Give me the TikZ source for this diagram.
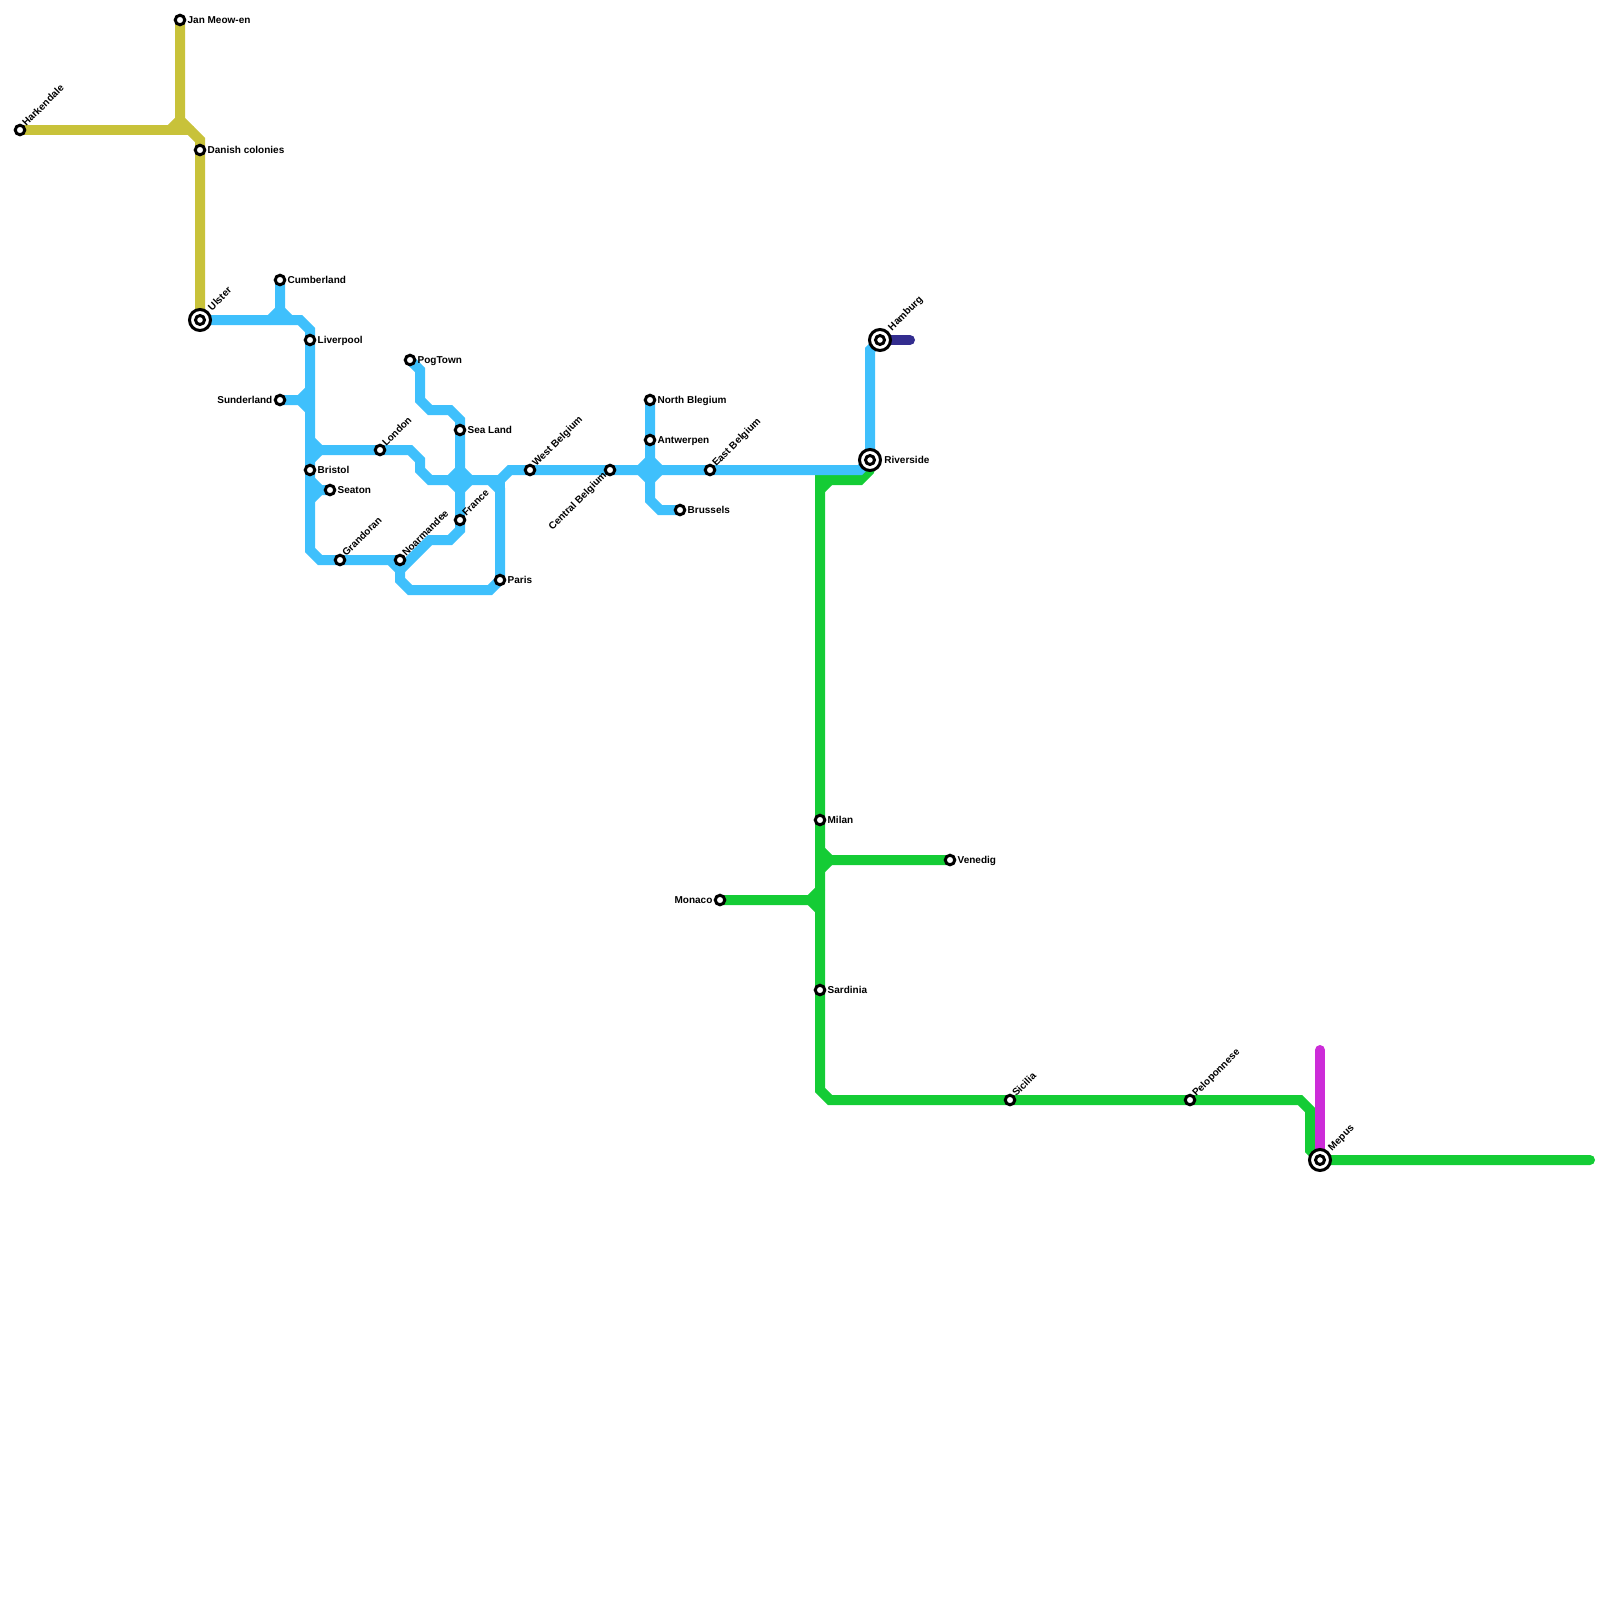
\documentclass[tikz,border=0pt]{standalone}
\usepackage{fontspec}
\setmainfont{Liberation Sans}
\usepackage{xcolor}
\usetikzlibrary{backgrounds}
\definecolor{metroyellow}{HTML}{C8C23A}
\definecolor{metroblue}{HTML}{3FC0FC}
\definecolor{metrogreen}{HTML}{14CC35}
\definecolor{metromagenta}{HTML}{CC2CD8}
\definecolor{metronavy}{HTML}{332D8F}

\begin{document}
\begin{tikzpicture}[
  x=0.5pt, y=-0.5pt,
  route/.style={line width=5pt, line cap=round},
  yellowline/.style={route, draw=metroyellow},
  blueline/.style={route, draw=metroblue},
  greenline/.style={route, draw=metrogreen},
  magentaline/.style={route, draw=metromagenta},
  navyline/.style={route, draw=metronavy},
  stationname/.style={font=\bfseries\fontsize{5pt}{6pt}\selectfont, inner sep=0pt, text=black},
  station/.style={circle, draw=black, fill=white, line width=1.5pt, inner sep=0pt, minimum size=4.75pt},
  hub/.style={station, minimum size=10.5pt},
  hubcore/.style={station, minimum size=4.5pt},
  eastname/.style={label={[stationname, anchor=mid west, xshift=0.5pt, yshift=1pt]0:#1}},
  westname/.style={label={[stationname, anchor=mid east, xshift=-0.5pt, yshift=1pt]180:#1}},
  upname/.style={label={[stationname, rotate=45, anchor=mid west, yshift=1.5pt]45:#1}},
  downname/.style={label={[stationname, rotate=45, anchor=mid east, yshift=1.5pt]225:#1}},
  hubeastname/.style={label={[stationname, anchor=mid west, xshift=1pt, yshift=1pt]0:#1}},
  hubupname/.style={label={[stationname, rotate=45, anchor=mid west, xshift=1.25pt, yshift=1.5pt]45:#1}}
]
\useasboundingbox (0,0) rectangle (1600,1600);

\node[station, upname=Harkendale] (harkendale) at (20,130) {};
\node[station, eastname=Jan Meow-en] (janmeow) at (180,20) {};
\node[station, eastname=Danish colonies] (danish) at (200,150) {};
\node[hub, hubupname=Ulster] (ulster) at (200,320) {};
\node[station, eastname=Cumberland] (cumberland) at (280,280) {};
\node[station, eastname=Liverpool] (liverpool) at (310,340) {};
\node[station, westname=Sunderland] (sunderland) at (280,400) {};
\node[station, eastname=Bristol] (bristol) at (310,470) {};
\node[station, eastname=Seaton] (seaton) at (330,490) {};
\node[station, upname=London] (london) at (380,450) {};
\node[station, upname=Grandoran] (grandoran) at (340,560) {};
\node[station, upname=Noarmandee] (noarmandee) at (400,560) {};
\node[station, eastname=PogTown] (pogtown) at (410,360) {};
\node[station, eastname=Sea Land] (sealand) at (460,430) {};
\node[station, upname=France] (france) at (460,520) {};
\node[station, eastname=Paris] (paris) at (500,580) {};
\node[station, upname=West Belgium] (westbelgium) at (530,470) {};
\node[station, downname=Central Belgium] (centralbelgium) at (610,470) {};
\node[station, eastname=North Blegium] (northblegium) at (650,400) {};
\node[station, eastname=Antwerpen] (antwerpen) at (650,440) {};
\node[station, eastname=Brussels] (brussels) at (680,510) {};
\node[station, upname=East Belgium] (eastbelgium) at (710,470) {};
\node[hub, hubeastname=Riverside] (riverside) at (870,460) {};
\node[hub, hubupname=Hamburg] (hamburg) at (880,340) {};
\node[station, eastname=Milan] (milan) at (820,820) {};
\node[station, eastname=Venedig] (venedig) at (950,860) {};
\node[station, westname=Monaco] (monaco) at (720,900) {};
\node[station, eastname=Sardinia] (sardinia) at (820,990) {};
\node[station, upname=Sicilia] (sicilia) at (1010,1100) {};
\node[station, upname=Peloponnese] (peloponnese) at (1190,1100) {};
\node[hub, hubupname=Mepus] (mepus) at (1320,1160) {};
\node[hubcore] (ulstercore) at (ulster) {};
\node[hubcore] (riversidecore) at (riverside) {};
\node[hubcore] (hamburgcore) at (hamburg) {};
\node[hubcore] (mepuscore) at (mepus) {};

\begin{scope}[on background layer]
\draw[yellowline] (harkendale.center) -- (190,130);
\draw[yellowline] (170,130) -- (180,120);
\draw[yellowline] (janmeow.center) -- (180,120) -- (200,140) -- (danish.center) -- (ulster.center);

\draw[greenline] (870,470) -- (860,480) -- (820,480) -- (milan.center) -- (sardinia.center) -- (820,1090) -- (830,1100) -- (sicilia.center) -- (peloponnese.center) -- (1300,1100) -- (1310,1110) -- (1310,1150) -- (mepus.center) -- (1590,1160);
\draw[greenline] (820,490) -- (830,480);
\draw[greenline] (venedig.center) -- (830,860) -- (820,850);
\draw[greenline] (830,860) -- (820,870);
\draw[greenline] (monaco.center) -- (810,900) -- (820,890);
\draw[greenline] (810,900) -- (820,910);

\draw[blueline] (ulster.center) -- (300,320) -- (310,330) -- (liverpool.center) -- (bristol.center) -- (310,550) -- (320,560) -- (grandoran.center) -- (noarmandee.center) -- (390,560) -- (400,570) -- (400,580) -- (410,590) -- (490,590) -- (paris.center) -- (500,490) -- (490,480) -- (430,480) -- (420,470) -- (420,460) -- (410,450) -- (london.center) -- (320,450) -- (310,440);
\draw[blueline] (320,450) -- (310,460);
\draw[blueline] (cumberland.center) -- (280,310) -- (270,320);
\draw[blueline] (280,310) -- (290,320);
\draw[blueline] (sunderland.center) -- (300,400) -- (310,390);
\draw[blueline] (300,400) -- (310,410);
\draw[blueline] (310,480) -- (320,490) -- (seaton.center);
\draw[blueline] (320,490) -- (310,500);
\draw[blueline] (pogtown.center) -- (420,370) -- (420,400) -- (430,410) -- (450,410) -- (460,420) -- (sealand.center) -- (france.center) -- (460,530) -- (450,540) -- (430,540) -- (400,570);
\draw[blueline] (450,480) -- (460,470) -- (470,480) -- (460,490) -- cycle;
\draw[blueline] (490,480) -- (500,480) -- (500,490);
\draw[blueline] (500,480) -- (510,470) -- (westbelgium.center) -- (centralbelgium.center) -- (eastbelgium.center) -- (860,470) -- (riverside.center) -- (870,350) -- (hamburg.center);
\draw[blueline] (640,470) -- (650,460) -- (660,470) -- (650,480) -- cycle;
\draw[blueline] (northblegium.center) -- (antwerpen.center) -- (650,500) -- (660,510) -- (brussels.center);

\draw[navyline] (hamburg.center) -- (910,340);
\draw[magentaline] (1320,1050) -- (mepus.center);
\end{scope}
\end{tikzpicture}
\end{document}
